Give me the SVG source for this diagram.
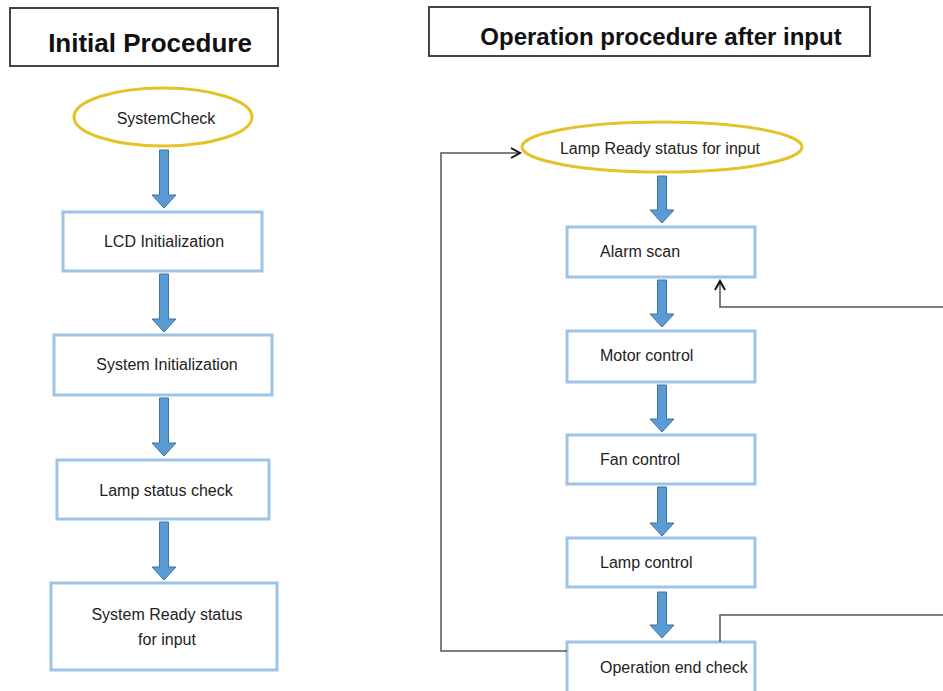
<svg xmlns="http://www.w3.org/2000/svg" width="943" height="691" viewBox="0 0 943 691">
<defs>
<style>
.title{fill:#fff;stroke:#444;stroke-width:2}
.tt{font-family:"Liberation Sans",Arial,sans-serif;font-weight:bold;fill:#111}
.oval{fill:#fff;stroke:#E6C229;stroke-width:3}
.box{fill:#fff;stroke:#9DC3E6;stroke-width:3}
.lbl{font-family:"Liberation Sans",Arial,sans-serif;font-size:16px;fill:#222}
.blk{fill:#5B9BD5;stroke:#41719C;stroke-width:1}
.fb{fill:none;stroke:#555;stroke-width:1.5}
</style>
<marker id="chev" viewBox="0 0 12 12" refX="10" refY="6" markerWidth="12" markerHeight="12" markerUnits="userSpaceOnUse" orient="auto">
<path d="M1,1 L10,6 L1,11" fill="none" stroke="#111" stroke-width="2"/>
</marker>
</defs>
<rect width="943" height="691" fill="#fff"/>

<g id="title-initial">
<rect class="title" x="10" y="8" width="268" height="58"/>
<text class="tt" x="150" y="52" font-size="26" text-anchor="middle">Initial Procedure</text>
</g>
<g id="title-operation">
<rect class="title" x="429" y="7" width="441" height="49"/>
<text class="tt" x="661" y="45" font-size="24" text-anchor="middle">Operation procedure after input</text>
</g>

<g id="system-check">
<ellipse class="oval" cx="163" cy="117" rx="89" ry="29"/>
<text class="lbl" x="166" y="124" font-size="17" text-anchor="middle">SystemCheck</text>
</g>
<g id="lcd-init">
<rect class="box" x="63" y="212" width="199" height="59"/>
<text class="lbl" x="164" y="247" text-anchor="middle">LCD Initialization</text>
</g>
<g id="system-init">
<rect class="box" x="54" y="335" width="218" height="60"/>
<text class="lbl" x="167" y="370" text-anchor="middle">System Initialization</text>
</g>
<g id="lamp-status-check">
<rect class="box" x="57" y="460" width="212" height="59"/>
<text class="lbl" x="166" y="496" text-anchor="middle">Lamp status check</text>
</g>
<g id="system-ready">
<rect class="box" x="51" y="583" width="226" height="87"/>
<text class="lbl" x="167" y="620" font-size="16.5" text-anchor="middle">System Ready status</text>
<text class="lbl" x="167" y="645" font-size="16.5" text-anchor="middle">for input</text>
</g>

<g id="lamp-ready">
<ellipse class="oval" cx="662" cy="147" rx="140" ry="25"/>
<text class="lbl" x="660" y="154" text-anchor="middle">Lamp Ready status for input</text>
</g>
<g id="alarm-scan">
<rect class="box" x="567" y="227" width="188" height="50"/>
<text class="lbl" x="600" y="257">Alarm scan</text>
</g>
<g id="motor-control">
<rect class="box" x="567" y="331" width="188" height="51"/>
<text class="lbl" x="600" y="361">Motor control</text>
</g>
<g id="fan-control">
<rect class="box" x="567" y="435" width="188" height="49"/>
<text class="lbl" x="600" y="465">Fan control</text>
</g>
<g id="lamp-control">
<rect class="box" x="567" y="538" width="188" height="49"/>
<text class="lbl" x="600" y="568">Lamp control</text>
</g>
<g id="operation-end-check">
<rect class="box" x="567" y="642" width="188" height="52"/>
<text class="lbl" x="600" y="673">Operation end check</text>
</g>

<g id="connectors">
<path class="blk" d="M159.5,150 H168.5 V195 H176 L164,208 L152,195 H159.5 Z"/>
<path class="blk" d="M159.5,274 H168.5 V319 H176 L164,332 L152,319 H159.5 Z"/>
<path class="blk" d="M159.5,398 H168.5 V443 H176 L164,456 L152,443 H159.5 Z"/>
<path class="blk" d="M159.5,522 H168.5 V567 H176 L164,580 L152,567 H159.5 Z"/>

<path class="blk" d="M657.5,176 H666.5 V210 H674 L662,223 L650,210 H657.5 Z"/>
<path class="blk" d="M657.5,280 H666.5 V314 H674 L662,327 L650,314 H657.5 Z"/>
<path class="blk" d="M657.5,385 H666.5 V419 H674 L662,432 L650,419 H657.5 Z"/>
<path class="blk" d="M657.5,487 H666.5 V523 H674 L662,536 L650,523 H657.5 Z"/>
<path class="blk" d="M657.5,592 H666.5 V625 H674 L662,638 L650,625 H657.5 Z"/>

<path class="fb" d="M567,651 H441 V153 H520" marker-end="url(#chev)"/>
<path class="fb" d="M943,307 H720 V281" marker-end="url(#chev)"/>
<path class="fb" d="M720,642 V615 H943"/>
</g>
</svg>
